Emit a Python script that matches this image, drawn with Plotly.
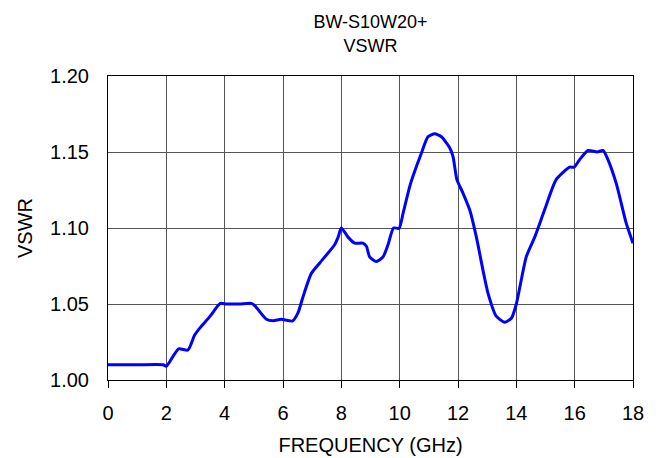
import plotly.graph_objects as go

freq = [0, 1.0, 1.89, 2.0, 2.42, 2.74, 2.97, 3.14, 3.49, 3.85, 4.06, 4.5, 4.91, 5.03,
        5.43, 5.66, 5.94, 6.32, 6.51, 6.69, 6.97, 7.26, 7.77, 7.89, 8.0, 8.23, 8.46,
        8.74, 8.86, 8.97, 9.2, 9.43, 9.6, 9.79, 9.98, 10.12, 10.37, 10.74, 10.97,
        11.2, 11.43, 11.71, 11.83, 11.96, 12.17, 12.4, 12.63, 12.88, 13.03, 13.31,
        13.6, 13.83, 14.0, 14.34, 14.63, 14.97, 15.37, 15.83, 15.98, 16.17, 16.46,
        16.77, 16.97, 17.14, 17.43, 17.77, 18.0]
vswr = [1.010, 1.010, 1.010, 1.009, 1.0205, 1.0197, 1.0296, 1.034, 1.0417, 1.0504, 1.050,
        1.050, 1.0504, 1.049, 1.040, 1.039, 1.040, 1.0388, 1.044, 1.055, 1.070, 1.077,
        1.089, 1.094, 1.100, 1.094, 1.090, 1.090, 1.088, 1.081, 1.078, 1.081, 1.089,
        1.100, 1.0998, 1.110, 1.129, 1.149, 1.160, 1.162, 1.160, 1.153, 1.147, 1.132,
        1.123, 1.112, 1.094, 1.070, 1.057, 1.042, 1.038, 1.0406, 1.050, 1.081, 1.094,
        1.112, 1.132, 1.140, 1.140, 1.145, 1.151, 1.150, 1.151, 1.145, 1.129, 1.103,
        1.090]

x_ticks = [0, 2, 4, 6, 8, 10, 12, 14, 16, 18]
y_ticks = [1.00, 1.05, 1.10, 1.15, 1.20]

font = "Liberation Sans, Arial, sans-serif"

fig = go.Figure()
fig.add_trace(go.Scatter(x=freq, y=vswr, mode="lines",
                         line=dict(color="#0000FF", width=3, shape="spline", smoothing=0.6),
                         showlegend=False))

fig.update_layout(
    width=652, height=450,
    margin=dict(l=100, r=27, t=68, b=78),
    paper_bgcolor="white", plot_bgcolor="white",
    font=dict(family=font, size=20, color="black"),
    title=dict(text="BW-S10W20+<br>VSWR", x=0.5, xref="paper", xanchor="center",
               y=0.955, yref="container", yanchor="top",
               font=dict(family=font, size=18, color="black")),
)
fig.update_xaxes(range=[0, 18], tickvals=x_ticks, ticktext=[str(v) for v in x_ticks],
                 showgrid=True, gridcolor="#555555", gridwidth=1,
                 showline=True, linecolor="black", linewidth=1, mirror=True,
                 ticks="outside", ticklen=7, tickcolor="black",
                 ticklabelstandoff=8, automargin=False,
                 zeroline=False, tickfont=dict(family=font, size=20),
                 title=dict(text="FREQUENCY (GHz)", standoff=14,
                            font=dict(family=font, size=20)))
fig.update_yaxes(range=[1.0, 1.2], tickvals=y_ticks, ticktext=[f"{v:.2f}" for v in y_ticks],
                 showgrid=True, gridcolor="#555555", gridwidth=1,
                 showline=True, linecolor="black", linewidth=1, mirror=True,
                 ticks="", zeroline=False, ticklabelstandoff=14, automargin=False,
                 tickfont=dict(family=font, size=20),
                 title=dict(text="VSWR", standoff=12, font=dict(family=font, size=20)))

fig.write_html("out.html")
